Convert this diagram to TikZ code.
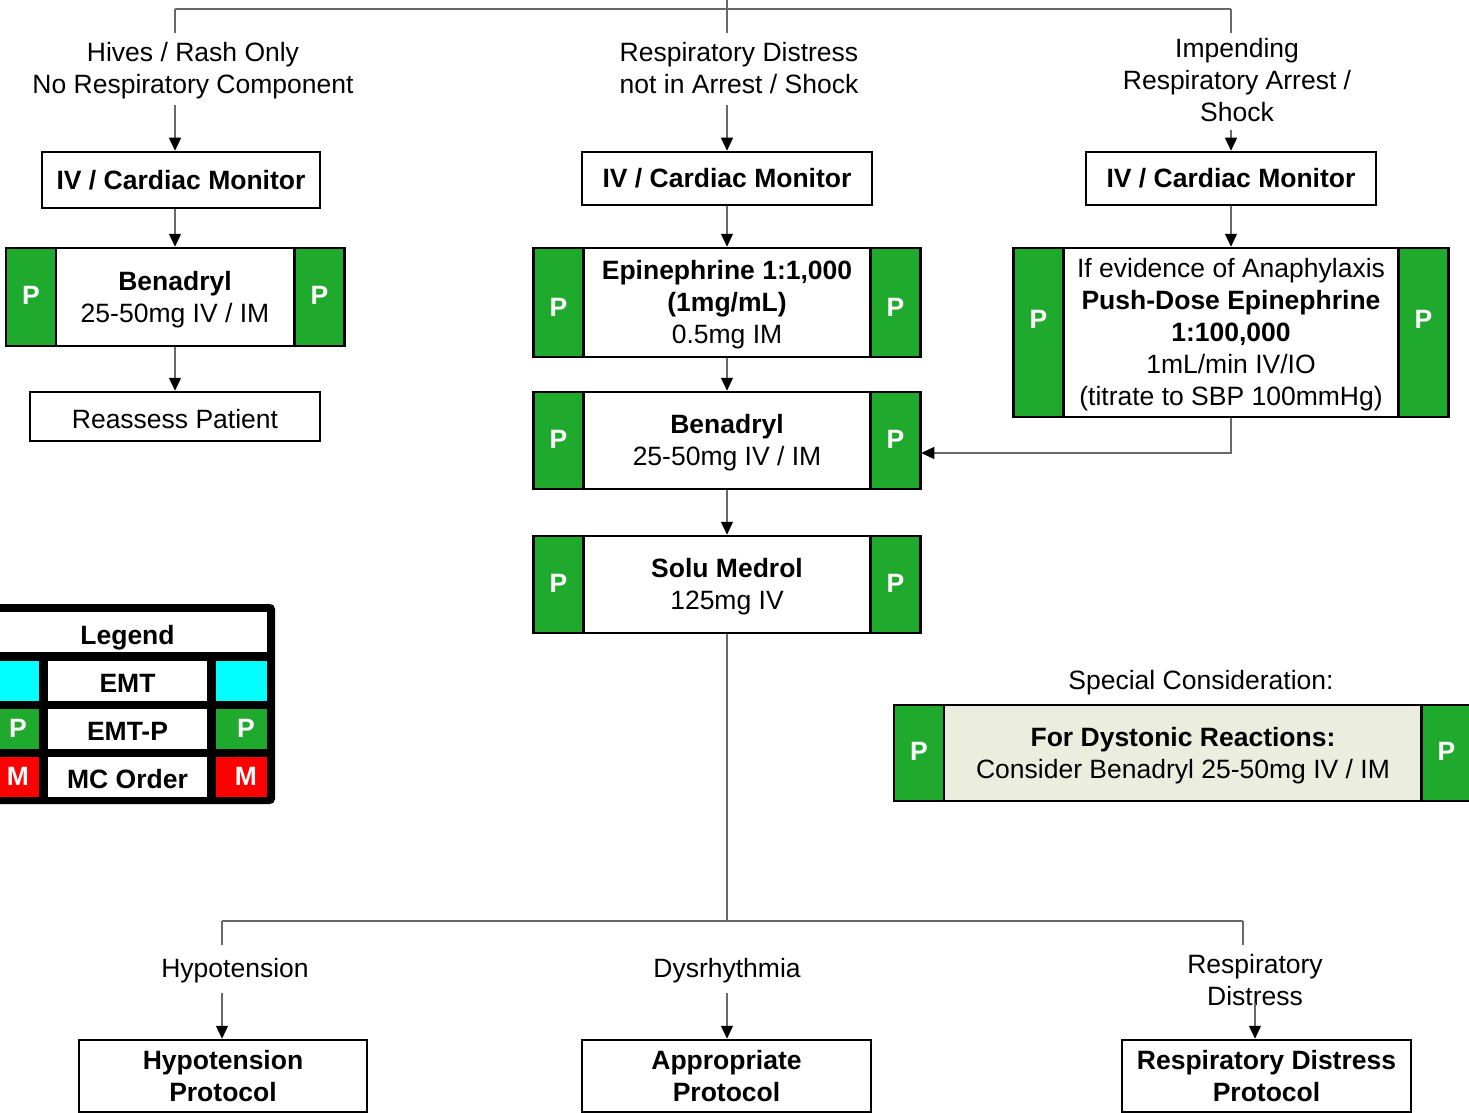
\documentclass[tikz,border=0pt]{standalone}
\usepackage{fontspec}
\setmainfont{Liberation Sans}
\usetikzlibrary{arrows.meta}
\definecolor{pgreen}{RGB}{31,170,46}
\definecolor{specfill}{RGB}{235,238,223}
\definecolor{lgray}{RGB}{105,105,105}
\definecolor{lcyan}{RGB}{0,255,255}
\definecolor{lred}{RGB}{255,0,0}
\newcommand\tup{\rule{0pt}{23.5pt}}
\newcommand\greenside[5]{%
  \node[pside, minimum height=#4pt] (#1) at (#2,#3) {};
  \node[ptext] (#1t) at (#2,#5) {P};}
\begin{document}
\begin{tikzpicture}[x=1pt,y=-1pt,
  every node/.style={font=\fontsize{26.5}{32}\selectfont, inner sep=0pt, align=center},
  box/.style={draw=black, line width=2.5pt, fill=white},
  pside/.style={draw=black, line width=2.5pt, fill=pgreen, minimum width=50pt},
  ptext/.style={text=white, font=\bfseries\fontsize{26.5}{32}\selectfont},
  lbl/.style={},
  conn/.style={draw=lgray, line width=1.3pt},
  arr/.style={conn, -{Triangle[length=13pt,width=12pt,color=black]}},
  cell/.style={fill=white, minimum height=40pt, text height=24.5pt, text depth=0pt, font=\bfseries\fontsize{26.5}{32}\selectfont},
  lcell/.style={minimum height=40pt, minimum width=51pt, text=white, font=\bfseries\fontsize{26.5}{32}\selectfont}
]
\useasboundingbox (0,0) rectangle (1469,1113);

% ---------- top labels ----------
\node[lbl] (lblL) at (193,71) {Hives / Rash Only\\No Respiratory Component};
\node[lbl] (lblC) at (739,68) {Respiratory Distress\\not in Arrest / Shock};
\node[lbl] (lblR) at (1237,80) {Impending\\Respiratory Arrest /\\Shock};

% ---------- left column ----------
\node[box, minimum width=278pt, minimum height=56pt] (ivL) at (181,180) {\textbf{IV / Cardiac Monitor}};
\node[box, minimum width=338pt, minimum height=98pt] (benL) at (175,297) {\tup\textbf{Benadryl}\\25-50mg IV / IM};
\greenside{benLa}{31}{297}{98}{295}
\greenside{benLb}{319.5}{297}{98}{295}
\node[box, minimum width=290pt, minimum height=49pt, text height=24pt, text depth=0pt] (reassess) at (175,416.5) {Reassess Patient};

% ---------- centre column ----------
\node[box, minimum width=290pt, minimum height=53pt] (ivC) at (727,178.5) {\textbf{IV / Cardiac Monitor}};
\node[box, minimum width=386pt, minimum height=109pt] (epi) at (727,302.5) {\tup\textbf{Epinephrine 1:1,000}\\\textbf{(1mg/mL)}\\0.5mg IM};
\greenside{epiA}{558.5}{302.5}{109}{307}
\greenside{epiB}{895.5}{302.5}{109}{307}
\node[box, minimum width=386pt, minimum height=97pt] (benC) at (727,440.5) {\tup\textbf{Benadryl}\\25-50mg IV / IM};
\greenside{benCa}{558.5}{440.5}{97}{439}
\greenside{benCb}{895.5}{440.5}{97}{439}
\node[box, minimum width=386pt, minimum height=97pt] (solu) at (727,584.5) {\tup\textbf{Solu Medrol}\\125mg IV};
\greenside{soluA}{558.5}{584.5}{97}{583}
\greenside{soluB}{895.5}{584.5}{97}{583}

% ---------- right column ----------
\node[box, minimum width=290pt, minimum height=53pt] (ivR) at (1231,178.5) {\textbf{IV / Cardiac Monitor}};
\node[box, minimum width=434pt, minimum height=169pt] (push) at (1231,332.5) {\tup If evidence of Anaphylaxis\\\textbf{Push-Dose Epinephrine}\\\textbf{1:100,000}\\1mL/min IV/IO\\(titrate to SBP 100mmHg)};
\greenside{pushA}{1038.5}{332.5}{169}{319}
\greenside{pushB}{1423.5}{332.5}{169}{319}

% ---------- special consideration ----------
\node[lbl] (specL) at (1201,683) {Special Consideration:};
\node[box, fill=specfill, minimum width=576pt, minimum height=96pt] (spec) at (1183,753) {\tup\textbf{For Dystonic Reactions:}\\Consider Benadryl 25-50mg IV / IM};
\greenside{specA}{919}{753}{96}{751}
\greenside{specB}{1446.5}{753}{96}{751}

% ---------- legend ----------
\node[fill=black, rounded corners=5pt, minimum width=295pt, minimum height=200pt] (legend) at (127.5,704) {};
\node[cell, minimum width=279pt] (legT) at (127.5,632) {Legend};
\node[lcell, fill=lcyan] (l1a) at (13.5,680.5) {};
\node[cell, minimum width=159pt] (l1b) at (127.5,680.5) {EMT};
\node[lcell, fill=lcyan] (l1c) at (241.5,680.5) {};
\node[lcell, fill=pgreen] (l2a) at (13.5,728.5) {\hspace*{9pt}P};
\node[cell, minimum width=159pt] (l2b) at (127.5,728.5) {EMT-P};
\node[lcell, fill=pgreen] (l2c) at (241.5,728.5) {\hspace*{9pt}P};
\node[lcell, fill=lred] (l3a) at (13.5,776.5) {\hspace*{9pt}M};
\node[cell, minimum width=159pt] (l3b) at (127.5,776.5) {MC Order};
\node[lcell, fill=lred] (l3c) at (241.5,776.5) {\hspace*{9pt}M};

% ---------- bottom ----------
\node[lbl] (lblH) at (235,971) {Hypotension};
\node[lbl] (lblD) at (727,971) {Dysrhythmia};
\node[lbl] (lblRD) at (1255,980) {Respiratory\\Distress};
\node[box, minimum width=288pt, minimum height=72pt] (hypo) at (223,1076) {\textbf{Hypotension}\\\textbf{Protocol}};
\node[box, minimum width=289pt, minimum height=72pt] (appr) at (726.5,1076) {\textbf{Appropriate}\\\textbf{Protocol}};
\node[box, minimum width=289pt, minimum height=72pt] (resp) at (1266.5,1076) {\textbf{Respiratory Distress}\\\textbf{Protocol}};

% ---------- connectors ----------
\coordinate (top) at (727,-2);
\coordinate (tj) at (727,9);
\coordinate (tl) at (175,9);
\coordinate (tr) at (1231,9);
\coordinate (lA) at (175,33);
\coordinate (cA) at (727,33);
\coordinate (rA) at (1231,33);
\coordinate (lB) at (175,105);
\coordinate (cB) at (727,105);
\coordinate (rB) at (1231,130);
\draw[conn] (top) -- (tj);
\draw[conn] (tl) -- (tr);
\draw[conn] (tl) -- (lA);
\draw[conn] (tj) -- (cA);
\draw[conn] (tr) -- (rA);
\draw[arr] (lB) -- (lB |- ivL.north);
\draw[arr] (cB) -- (ivC.north);
\draw[arr] (rB) -- (ivR.north);
\draw[arr] (lB |- ivL.south) -- (benL.north);
\draw[arr] (benL.south) -- (reassess.north);
\draw[arr] (ivC.south) -- (epi.north);
\draw[arr] (epi.south) -- (benC.north);
\draw[arr] (benC.south) -- (solu.north);
\draw[arr] (ivR.south) -- (push.north);
\coordinate (pj) at (1231,453);
\draw[arr] (push.south) -- (pj) -- (benC.east |- pj);

\coordinate (bj) at (727,921);
\coordinate (bl) at (222,921);
\coordinate (br) at (1243,921);
\coordinate (bl2) at (222,945);
\coordinate (br2) at (1243,945);
\draw[conn] (solu.south) -- (bj);
\draw[conn] (bl) -- (br);
\draw[conn] (bl) -- (bl2);
\draw[conn] (br) -- (br2);
\coordinate (hA) at (222,993);
\coordinate (dA) at (727,993);
\coordinate (rsA) at (1255,1003);
\draw[arr] (hA) -- (hA |- hypo.north);
\draw[arr] (dA) -- (dA |- appr.north);
\draw[arr] (rsA) -- (rsA |- resp.north);
\end{tikzpicture}
\end{document}
